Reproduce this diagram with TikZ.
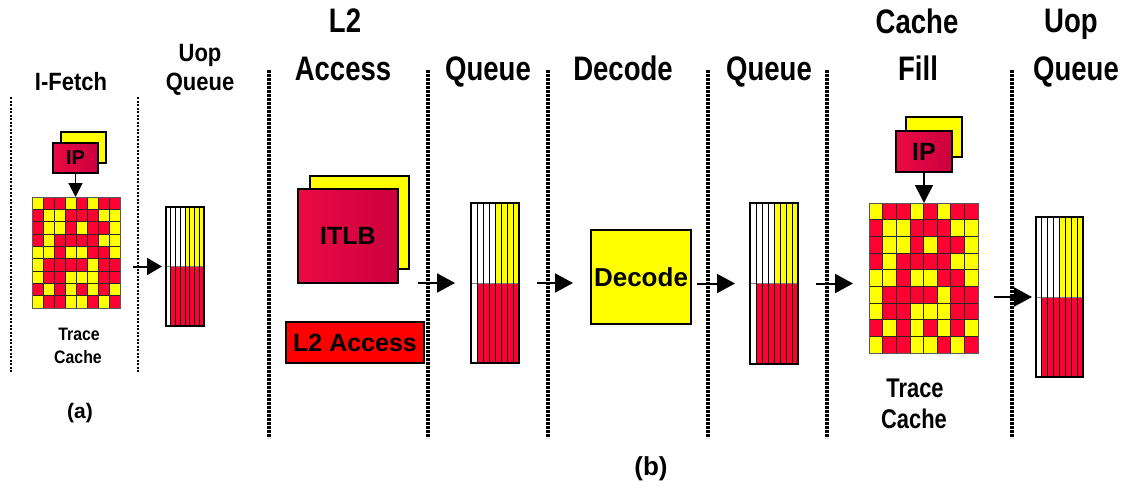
\documentclass[tikz,border=0pt]{standalone}
\usepackage{fontspec}
\setmainfont{Liberation Sans}
\newfontfamily\condA[FakeStretch=0.88]{Liberation Sans}
\newfontfamily\condB[FakeStretch=0.81]{Liberation Sans}
\usetikzlibrary{arrows.meta}
\definecolor{cY}{RGB}{255,255,0}
\definecolor{cR}{RGB}{255,0,51}
\definecolor{l2red}{RGB}{255,0,0}
\definecolor{crimL}{RGB}{234,10,68}
\definecolor{crimR}{RGB}{204,0,62}

\newcommand\tcgrid[5]{%
  \foreach \gr [count=\ri from 0] in {{Y,R,R,Y,R,Y,R,R},{R,Y,Y,R,R,R,Y,Y},{R,Y,Y,R,Y,R,R,Y},{R,Y,R,R,R,R,Y,Y},{Y,Y,R,Y,Y,R,R,Y},{Y,R,R,R,R,Y,R,R},{Y,R,R,Y,Y,Y,R,R},{R,Y,R,Y,R,Y,R,Y},{Y,R,R,Y,Y,R,Y,R}}{
    \foreach \gc [count=\ci from 0] in \gr {
      \filldraw[fill=c\gc, draw=black!85, line width=0.6pt] ({#2+\ci*#4},{#3+\ri*#5}) rectangle ++(#4,#5);
    }
  }
  \pgfmathsetmacro\gw{8*#4}\pgfmathsetmacro\gh{9*#5}
  \node[draw=black!65, line width=1pt, inner sep=0pt, outer sep=0pt, minimum width=\gw*1pt, minimum height=\gh*1pt, anchor=north west] (#1) at (#2,#3) {};
}

\newcommand\uopq[5]{%
  \pgfmathsetmacro\qw{#4/8}
  \fill[white] (#2,#3) rectangle ++(#4,#5);
  \fill[cY] ({#2+4*\qw},#3) rectangle ({#2+#4},{#3+#5/2});
  \fill[cR] ({#2+\qw},{#3+#5/2}) rectangle ({#2+#4},{#3+#5});
  \draw[black!50, line width=0.7pt] (#2,{#3+#5/2}) -- ++(#4,0);
  \foreach \qi in {1,...,7} \draw[black, line width=0.8pt] ({#2+\qi*\qw},#3) -- ++(0,#5);
  \node[draw=black, line width=1.1pt, inner sep=0pt, outer sep=0pt, minimum width=#4pt, minimum height=#5pt, anchor=north west] (#1) at (#2,#3) {};
}

\begin{document}
\begin{tikzpicture}[x=1pt,y=-1pt,
  hdrA/.style={anchor=base, inner sep=0pt, font={\condA\bfseries\fontsize{25}{30}\selectfont}},
  hdrB/.style={anchor=base, inner sep=0pt, font={\condB\bfseries\fontsize{34}{40}\selectfont}},
  tcA/.style={anchor=base, inner sep=0pt, font={\condA\bfseries\fontsize{18}{22}\selectfont}},
  tcB/.style={anchor=base, inner sep=0pt, font={\condB\bfseries\fontsize{27}{32}\selectfont}},
  capt/.style={anchor=base, inner sep=0pt, font={\bfseries\fontsize{#1}{#1}\selectfont}},
  backbox/.style={draw=black, line width=1.2pt, fill=cY, inner sep=0pt, outer sep=0pt, anchor=north west},
  frontbox/.style={draw=black, line width=1.2pt, left color=crimL, right color=crimR, inner sep=0pt, outer sep=0pt, anchor=north west},
  plainbox/.style={draw=black, line width=1.2pt, inner sep=0pt, outer sep=0pt, anchor=north west},
  lbl/.style={font={\bfseries\fontsize{#1}{#1}\selectfont}},
  dotA/.style={line width=2.6pt, dash pattern=on 2.2pt off 1.3pt},
  dotB/.style={line width=3.2pt, dash pattern=on 2.6pt off 1.4pt},
  arrA/.style={line width=2pt, -{Triangle[length=15pt,width=17pt]}},
  arrB/.style={line width=2pt, -{Triangle[length=18pt,width=19pt]}},
  arrV/.style={line width=1.8pt, -{Triangle[length=#1pt,width=#1pt]}}
]
\useasboundingbox (0,0) rectangle (1122,488);

% dotted stage separators
\draw[dotA] (11,97) -- (11,372);
\draw[dotA] (138,97) -- (138,372);
\foreach \xx in {269,428,548,708,827,1012} \draw[dotB] (\xx,70) -- (\xx,438);

% headers (a)
\node[hdrA] (hIF) at (71,90) {I-Fetch};
\node[hdrA] (hUa1) at (200,61) {Uop};
\node[hdrA] (hUa2) at (200,90) {Queue};
% headers (b)
\node[hdrB] (hL2a) at (345,32) {L2};
\node[hdrB] (hL2b) at (343,80) {Access};
\node[hdrB] (hQ1) at (488,80) {Queue};
\node[hdrB] (hDec) at (623,80) {Decode};
\node[hdrB] (hQ2) at (769,80) {Queue};
\node[hdrB] (hCFa) at (917,33) {Cache};
\node[hdrB] (hCFb) at (918,80) {Fill};
\node[hdrB] (hUb1) at (1071,32) {Uop};
\node[hdrB] (hUb2) at (1076,80) {Queue};

% ---- (a) ----
\node[backbox, minimum width=45pt, minimum height=31pt] (IPaB) at (61,132) {};
\node[frontbox, minimum width=45pt, minimum height=30pt, lbl=20] (IPa) at (53,143) {IP};
\tcgrid{Ga}{32}{197}{11}{12.333}
\draw[arrV=14] (IPa.south) -- (IPa.south |- Ga.north);
\uopq{Qa}{166}{207}{38}{119}
\draw[arrA, shorten <=13pt, shorten >=4pt] (Ga.east |- Qa.west) -- (Qa.west);
\node[tcA] (tcAa) at (79,340) {Trace};
\node[tcA] (tcAb) at (78,363) {Cache};
\node[capt=21] (capA) at (80,418) {(a)};

% ---- (b) ----
\node[backbox, minimum width=99pt, minimum height=93pt] (ITLBb) at (310,176) {};
\node[frontbox, minimum width=100pt, minimum height=94pt, lbl=25] (ITLB) at (298,189) {ITLB};
\node[plainbox, fill=l2red, minimum width=138pt, minimum height=41pt, lbl=25] (L2) at (286,322) {L2 Access};
\uopq{Q2}{471}{203}{48}{160}
\draw[arrB, shorten <=20pt, shorten >=16pt] (ITLB.south east) -- (Q2.west);
\node[plainbox, fill=cY, minimum width=100pt, minimum height=94pt, lbl=26] (Dec) at (591,230) {Decode};
\draw[arrB, shorten <=18pt, shorten >=18pt] (Q2.east) -- (Q2.east -| Dec.west);
\uopq{Q3}{750}{203}{48}{161}
\draw[arrB, shorten <=6pt, shorten >=15pt] (Dec.east |- Q3.west) -- (Q3.west);
\node[backbox, minimum width=56pt, minimum height=40pt] (IPbB) at (906,117) {};
\node[frontbox, minimum width=56pt, minimum height=41pt, lbl=25] (IPb) at (896,131) {IP};
\tcgrid{Gb}{869}{203}{13.625}{16.667}
\draw[arrV=18] (IPb.south) -- (IPb.south |- Gb.north);
\draw[arrB, shorten <=18pt, shorten >=16pt] (Q3.east) -- (Q3.east -| Gb.west);
\uopq{Q4}{1036}{217}{47}{160}
\draw[arrB, shorten <=16pt, shorten >=4pt] (Gb.east |- Q4.west) -- (Q4.west);
\node[tcB] (tcBa) at (915,397) {Trace};
\node[tcB] (tcBb) at (914,428) {Cache};
\node[capt=26] (capB) at (651,475) {(b)};
\end{tikzpicture}
\end{document}
